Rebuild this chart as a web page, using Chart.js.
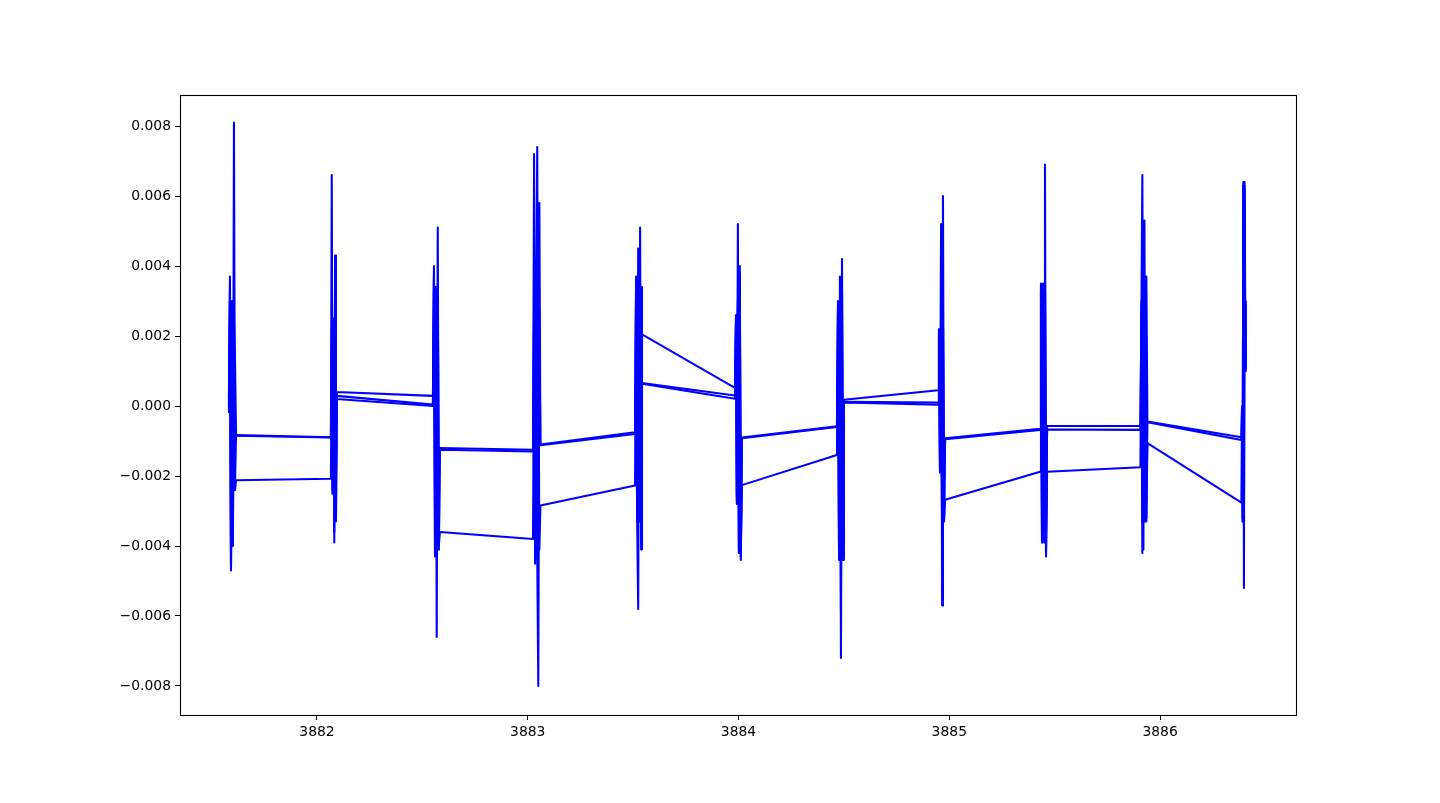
<!DOCTYPE html>
<html>
<head>
<meta charset="utf-8">
<script src="https://cdn.jsdelivr.net/npm/chart.js@4.4.1/dist/chart.umd.min.js"></script>
<style>
  body { margin: 0; background: #fff; }
  canvas { display: block; }
</style>
</head>
<body>
<canvas id="myChart" width="1440" height="803" style="width:1440px;height:803px"></canvas>
<script>
// x positions of the samples inside each of the 11 bursts
const clusterX = [
  [3881.582, 3881.587, 3881.592, 3881.597, 3881.601, 3881.606, 3881.611, 3881.616],
  [3882.066, 3882.070, 3882.074, 3882.078, 3882.082, 3882.086, 3882.090, 3882.094],
  [3882.550, 3882.555, 3882.560, 3882.564, 3882.568, 3882.573, 3882.578, 3882.583],
  [3883.025, 3883.030, 3883.035, 3883.040, 3883.045, 3883.050, 3883.055, 3883.060],
  [3883.509, 3883.514, 3883.519, 3883.524, 3883.529, 3883.533, 3883.538, 3883.542],
  [3883.983, 3883.988, 3883.992, 3883.997, 3884.002, 3884.006, 3884.011, 3884.016],
  [3884.467, 3884.472, 3884.477, 3884.481, 3884.486, 3884.491, 3884.496, 3884.500],
  [3884.947, 3884.951, 3884.956, 3884.961, 3884.966, 3884.970, 3884.975, 3884.980],
  [3885.431, 3885.435, 3885.440, 3885.445, 3885.450, 3885.454, 3885.459, 3885.464],
  [3885.907, 3885.912, 3885.916, 3885.921, 3885.926, 3885.930, 3885.935, 3885.940],
  [3886.386, 3886.389, 3886.392, 3886.395, 3886.398, 3886.401, 3886.404, 3886.407]
];

// three passes through the bursts, y values per burst
const passA = [
  [0.0002, 0.0037, -0.0046, 0.0030, -0.0040, 0.0081, -0.0022, -0.00083],
  [-0.00089, 0.0066, -0.0025, 0.0024, -0.0039, 0.0043, -0.0020, 0.0004],
  [0.00029, 0.0040, -0.0042, 0.0034, -0.0041, 0.0051, -0.0041, -0.0012],
  [-0.00125, 0.0072, -0.0045, 0.0030, 0.0074, -0.0041, 0.0058, -0.0011],
  [-0.00075, 0.0037, -0.0033, 0.0045, -0.0030, 0.0051, -0.0041, 0.00205],
  [0.00052, 0.0026, -0.0027, 0.0052, -0.0042, 0.0040, -0.0043, -0.0009],
  [-0.00058, 0.0029, -0.0043, 0.0037, -0.0072, 0.0042, -0.0044, 0.00018],
  [0.00045, 0.0022, -0.0019, 0.0023, -0.0033, 0.0060, -0.0033, -0.00092],
  [-0.00065, 0.0035, -0.0039, 0.0034, -0.0038, 0.0069, -0.0043, -0.00057],
  [-0.00057, 0.0031, 0.0066, -0.0041, 0.0053, -0.0033, 0.0037, -0.00044],
  [-0.00089, -0.0001, -0.0033, 0.0063, -0.0052, 0.0064, 0.0030, 0.0011]
];
const passB = [
  [0.0, 0.0034, -0.0047, 0.0026, -0.0035, 0.0025, 0.0013, -0.00085],
  [-0.0009, 0.0022, -0.0024, 0.0025, -0.0030, 0.0040, -0.0033, 0.00029],
  [0.00004, 0.0038, -0.0030, 0.0030, -0.0066, 0.0035, -0.0041, -0.00125],
  [-0.0013, 0.0028, -0.0044, 0.0029, -0.0043, -0.0080, 0.0027, -0.00112],
  [-0.0008, 0.0035, -0.0032, -0.0058, 0.0034, -0.0033, 0.0034, 0.00066],
  [0.0003, 0.0025, -0.0026, 0.0030, -0.0041, 0.0038, -0.0044, -0.00092],
  [-0.0006, 0.0030, -0.0042, 0.0028, -0.0058, 0.0034, -0.0043, 0.00012],
  [0.0001, 0.0021, -0.0018, 0.0052, -0.0057, 0.0023, -0.0032, -0.00095],
  [-0.00068, 0.0034, -0.0038, 0.0035, -0.0039, 0.0033, -0.0042, -0.00067],
  [-0.00068, 0.0030, -0.0033, 0.0029, -0.0032, 0.0031, -0.0033, -0.00046],
  [-0.00097, 0.0, -0.0032, 0.0063, -0.0031, 0.0062, 0.0011, 0.0029]
];
const passC = [
  [-0.0002, 0.0030, -0.0045, 0.0022, -0.0038, 0.0020, -0.0024, -0.00212],
  [-0.00208, 0.0020, -0.0025, 0.0023, -0.0036, 0.0039, -0.0032, 0.0002],
  [0.0, 0.0036, -0.0043, 0.0032, -0.0042, 0.0034, -0.0040, -0.0036],
  [-0.0038, 0.0026, -0.0045, 0.0030, -0.0040, 0.0028, -0.0041, -0.00284],
  [-0.00227, 0.0033, -0.0033, 0.0036, -0.0032, 0.0035, -0.0040, 0.00064],
  [0.00021, 0.0024, -0.0028, 0.0029, -0.0042, 0.0030, -0.0040, -0.00226],
  [-0.0014, 0.0027, -0.0044, 0.0030, -0.0040, 0.0025, -0.0042, 0.0001],
  [0.00004, 0.0020, -0.0019, 0.0022, -0.0037, 0.0024, -0.0033, -0.00268],
  [-0.00188, 0.0033, -0.0039, 0.0034, -0.0037, 0.0035, -0.0040, -0.00188],
  [-0.00175, 0.0029, -0.0042, 0.0030, -0.0031, 0.0030, -0.0032, -0.00106],
  [-0.00276, -0.0002, -0.0033, 0.0064, -0.0033, 0.0063, 0.0010, 0.0020]
];

const xTicks = [3882, 3883, 3884, 3885, 3886];
const yTicks = [-0.008, -0.006, -0.004, -0.002, 0.0, 0.002, 0.004, 0.006, 0.008];

function toPoints(pass) {
  const pts = [];
  pass.forEach((ys, i) => {
    ys.forEach((y, j) => pts.push({ x: clusterX[i][j], y: y }));
  });
  return pts;
}

const frame = {
  id: 'frame',
  afterDraw(chart) {
    const { ctx, chartArea: a } = chart;
    ctx.save();
    ctx.strokeStyle = '#000';
    ctx.lineWidth = 1.1;
    ctx.strokeRect(Math.round(a.left) + 0.5, Math.round(a.top) + 0.5,
                   Math.round(a.right - a.left), Math.round(a.bottom - a.top));
    ctx.restore();
  }
};

const tickFont = { family: 'DejaVu Sans', size: 13.9 };

new Chart(document.getElementById('myChart').getContext('2d'), {
  type: 'line',
  data: {
    datasets: [passA, passB, passC].map(p => ({
      data: toPoints(p),
      borderColor: '#0000ff',
      borderWidth: 2.08,
      borderJoinStyle: 'round',
      pointRadius: 0,
      tension: 0,
      fill: false
    }))
  },
  options: {
    responsive: false,
    animation: false,
    layout: { padding: { top: 95, right: 144, left: 0, bottom: 0 } },
    plugins: { legend: { display: false }, tooltip: { enabled: false } },
    scales: {
      x: {
        type: 'linear',
        min: 3881.35,
        max: 3886.645,
        border: { display: false },
        grid: { drawOnChartArea: false, drawTicks: true, tickLength: 5, color: '#000' },
        ticks: { color: '#000', font: tickFont, padding: 4, maxRotation: 0,
                 callback: v => String(v) },
        afterBuildTicks: s => { s.ticks = xTicks.map(v => ({ value: v })); },
        afterFit: s => { s.height = 88; }
      },
      y: {
        type: 'linear',
        min: -0.00883,
        max: 0.00889,
        border: { display: false },
        grid: { drawOnChartArea: false, drawTicks: true, tickLength: 5, color: '#000' },
        ticks: { color: '#000', font: tickFont, padding: 4,
                 callback: v => (v < -1e-9 ? '\u2212' : '') + Math.abs(v).toFixed(3) },
        afterBuildTicks: s => { s.ticks = yTicks.map(v => ({ value: v })); },
        afterFit: s => { s.width = 180; }
      }
    }
  },
  plugins: [frame]
});
</script>
</body>
</html>
